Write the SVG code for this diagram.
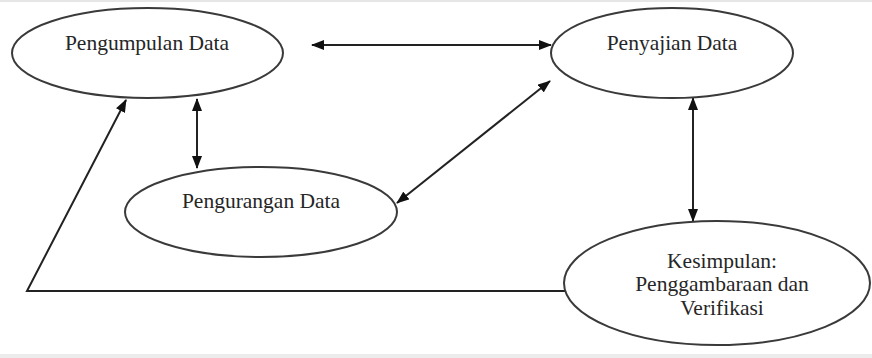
<svg xmlns="http://www.w3.org/2000/svg" width="872" height="358" viewBox="0 0 872 358">
  <style>
    .node ellipse { fill: #ffffff; stroke: #3a3a3a; stroke-width: 2; }
    .node text { font-size: 21.5px; fill: #262626; text-anchor: middle; }
    .conn line, .conn polyline { stroke: #222222; stroke-width: 2; fill: none; }
  </style>
  <defs>
    <marker id="arrow" viewBox="0 0 13 10" refX="12" refY="5" markerWidth="13" markerHeight="10" markerUnits="userSpaceOnUse" orient="auto-start-reverse">
      <path d="M0,0 L13,5 L0,10 z" fill="#111111"/>
    </marker>
  </defs>
  <rect x="0" y="0" width="872" height="358" fill="#ffffff"/>
  <rect x="0" y="0" width="872" height="2" fill="#e6e6e6"/>
  <rect x="0" y="354" width="872" height="4" fill="#ececec"/>

  <g id="connectors" class="conn">
    <line x1="312" y1="45" x2="551" y2="45" marker-start="url(#arrow)" marker-end="url(#arrow)"/>
    <line x1="197" y1="99" x2="197" y2="168" marker-start="url(#arrow)" marker-end="url(#arrow)"/>
    <line x1="397" y1="203" x2="550" y2="81" marker-start="url(#arrow)" marker-end="url(#arrow)"/>
    <line x1="693" y1="98" x2="693" y2="221" marker-start="url(#arrow)" marker-end="url(#arrow)"/>
    <polyline points="566,291 27,291 126,100" marker-end="url(#arrow)"/>
  </g>

  <g id="node-pengumpulan" class="node" font-family="'Liberation Serif', 'DejaVu Serif', serif">
    <ellipse cx="147.5" cy="53" rx="135.5" ry="45"/>
    <text x="147" y="50">Pengumpulan Data</text>
  </g>
  <g id="node-penyajian" class="node" font-family="'Liberation Serif', 'DejaVu Serif', serif">
    <ellipse cx="672" cy="53" rx="121" ry="45"/>
    <text x="672" y="50">Penyajian Data</text>
  </g>
  <g id="node-pengurangan" class="node" font-family="'Liberation Serif', 'DejaVu Serif', serif">
    <ellipse cx="261" cy="212" rx="136" ry="45"/>
    <text x="261" y="208">Pengurangan Data</text>
  </g>
  <g id="node-kesimpulan" class="node" font-family="'Liberation Serif', 'DejaVu Serif', serif">
    <ellipse cx="717" cy="283" rx="153" ry="62"/>
    <text x="722" y="268">Kesimpulan:</text>
    <text x="722" y="291">Penggambaraan dan</text>
    <text x="722" y="315">Verifikasi</text>
  </g>
</svg>
